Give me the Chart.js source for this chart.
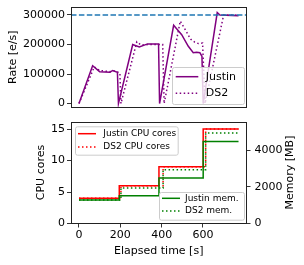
<!DOCTYPE html>
<html lang="en">
  <head>
    <meta charset="UTF-8" />
    <title>Justin vs DS2 - rate and resources</title>
    <script src="https://cdn.jsdelivr.net/npm/chart.js"></script>
    <style>
      body { margin: 0; background: #fff; }
      .panel { position: absolute; left: 0; width: 304px; }
      #top { top: 0; height: 115px; }
      #bottom { top: 115px; height: 150px; }
    </style>
  </head>
  <body>
    <div class="panel" id="top"><canvas id="rateChart"></canvas></div>
    <div class="panel" id="bottom"><canvas id="resChart"></canvas></div>

    <script>
      // processing rate (events/s) over elapsed time
      const justinTime = [0, 66, 100, 150, 163, 186, 191, 260, 292, 332, 385, 390, 458, 497, 529, 553, 569, 585, 595, 601, 669, 682, 772];
      const justinRate = [0, 128000, 108000, 106000, 112000, 106000, 0, 200000, 192000, 202000, 202000, 0, 265000, 233000, 194000, 172000, 174000, 172000, 160000, 0, 308000, 300000, 297000];
      const ds2Time = [0, 74, 100, 150, 168, 198, 203, 280, 300, 340, 405, 412, 490, 517, 540, 560, 578, 598, 610, 700, 772];
      const ds2Rate = [0, 124000, 112000, 108000, 111000, 104000, 0, 209000, 198000, 200000, 200000, 0, 279000, 247000, 218000, 208000, 203000, 205000, 0, 300000, 300000];
      const targetRate = 300000;

      // resources: step changes (value holds from each time until the next)
      const justinStepTime = [0, 195, 387, 601, 772];
      const ds2StepTime = [0, 203, 407, 613, 772];
      const justinCores = [4, 6, 9, 15, 15];
      const ds2Cores = [4, 6, 9, 15, 15];
      const justinMem = [1280, 1520, 2480, 4480, 4480];
      const ds2Mem = [1280, 1940, 2940, 4940, 4940];

      const xTicks = [0, 200, 400, 600];
      const rateTicks = [0, 100000, 200000, 300000];
      const coreTicks = [0, 5, 10, 15];
      const memTicks = [0, 2000, 4000];
      const xMin = -38.6, xMax = 810.6;

      const pts = (xs, ys) => xs.map((x, i) => ({ x: x, y: ys[i] }));
      const plain = (v) => String(v);

      Chart.defaults.font.family = "'DejaVu Sans', sans-serif";
      Chart.defaults.font.size = 11;
      Chart.defaults.color = "#000";

      const PURPLE = "#800080", RED = "#ff0000", GREEN = "#008000", BLUE = "#1f77b4";
      const DOT = [1.5, 2.5];

      // axis frame, legends and rotated side label drawn on top of the lines
      const framePlugin = {
        id: "framePlugin",
        afterDatasetsDraw(chart, args, opts) {
          const ctx = chart.ctx;
          const a = chart.chartArea;
          ctx.save();
          ctx.strokeStyle = "#222";
          ctx.lineWidth = 1;
          ctx.strokeRect(Math.round(a.left) + 0.5, Math.round(a.top) + 0.5,
            Math.round(a.right - a.left) - 1, Math.round(a.bottom - a.top) - 1);
          (opts.boxes || []).forEach(function (b) {
            ctx.fillStyle = "rgba(255,255,255,0.8)";
            ctx.strokeStyle = "#cccccc";
            ctx.lineWidth = 1;
            ctx.beginPath();
            ctx.roundRect(b.x + 0.5, b.y + 0.5, b.w, b.h, 2);
            ctx.fill();
            ctx.stroke();
            ctx.font = b.size + "px 'DejaVu Sans'";
            ctx.textBaseline = "middle";
            b.items.forEach(function (idx, i) {
              const ds = chart.data.datasets[idx];
              const y = b.rows[i];
              ctx.beginPath();
              ctx.strokeStyle = ds.borderColor;
              ctx.lineWidth = ds.borderWidth;
              ctx.setLineDash(ds.borderDash || []);
              ctx.moveTo(b.line[0], y);
              ctx.lineTo(b.line[1], y);
              ctx.stroke();
              ctx.setLineDash([]);
              ctx.fillStyle = "#000";
              ctx.fillText(ds.label, b.textX, y);
            });
          });
          if (opts.sideTitle) {
            const t = opts.sideTitle;
            ctx.translate(t.x, (a.top + a.bottom) / 2);
            ctx.rotate(-Math.PI / 2);
            ctx.font = "11px 'DejaVu Sans'";
            ctx.textAlign = "center";
            ctx.textBaseline = "middle";
            ctx.fillStyle = "#000";
            ctx.fillText(t.text, 0, 0);
          }
          ctx.restore();
        },
      };

      function fixWidth(w) {
        return function (s) { s.width = w; s.paddingTop = 0; s.paddingBottom = 0; };
      }
      function useTicks(list) {
        return function (s) { s.ticks = list.map((v) => ({ value: v })); };
      }
      const tickGrid = { drawOnChartArea: false, drawTicks: true, tickLength: 4, color: "#000", lineWidth: 0.8 };

      // top panel: rate
      new Chart(document.getElementById("rateChart"), {
        type: "line",
        data: {
          datasets: [
            { label: "target", data: pts([xMin, xMax], [targetRate, targetRate]), borderColor: BLUE, borderWidth: 1.5, borderDash: [5.5, 2.4], pointRadius: 0 },
            { label: "Justin", data: pts(justinTime, justinRate), borderColor: PURPLE, borderWidth: 1.5, pointRadius: 0 },
            { label: "DS2", data: pts(ds2Time, ds2Rate), borderColor: PURPLE, borderWidth: 1.5, borderDash: DOT, pointRadius: 0 },
          ],
        },
        options: {
          responsive: true,
          maintainAspectRatio: false,
          animation: false,
          devicePixelRatio: 1,
          layout: { padding: { left: 0, right: 57.5, top: 7, bottom: 7.5 } },
          scales: {
            x: { type: "linear", min: xMin, max: xMax, display: false },
            y: {
              min: -13400, max: 326900,
              afterBuildTicks: useTicks(rateTicks),
              afterFit: fixWidth(71),
              grid: tickGrid,
              border: { display: false },
              ticks: { padding: 2, callback: plain },
              title: { display: true, text: "Rate [e/s]", padding: { top: 6.5, bottom: 0 } },
            },
          },
          plugins: {
            legend: { display: false },
            tooltip: { enabled: false },
            framePlugin: {
              boxes: [{ x: 172, y: 67, w: 72, h: 37, size: 11, items: [1, 2], rows: [76.7, 93.3], line: [175.7, 198.3], textX: 205.7 }],
            },
          },
        },
        plugins: [framePlugin],
      });

      // bottom panel: CPU cores (left) and memory (right)
      new Chart(document.getElementById("resChart"), {
        type: "line",
        data: {
          datasets: [
            { label: "Justin mem.", data: pts(justinStepTime, justinMem), yAxisID: "y2", stepped: true, borderColor: GREEN, borderWidth: 1.5, pointRadius: 0 },
            { label: "DS2 mem.", data: pts(ds2StepTime, ds2Mem), yAxisID: "y2", stepped: true, borderColor: GREEN, borderWidth: 1.5, borderDash: DOT, pointRadius: 0 },
            { label: "Justin CPU cores", data: pts(justinStepTime, justinCores), yAxisID: "y", stepped: true, borderColor: RED, borderWidth: 1.5, pointRadius: 0 },
            { label: "DS2 CPU cores", data: pts(ds2StepTime, ds2Cores), yAxisID: "y", stepped: true, borderColor: RED, borderWidth: 1.5, borderDash: DOT, pointRadius: 0 },
          ],
        },
        options: {
          responsive: true,
          maintainAspectRatio: false,
          animation: false,
          devicePixelRatio: 1,
          layout: { padding: { left: 0, right: 0, top: 6.5, bottom: 0 } },
          scales: {
            x: {
              type: "linear", min: xMin, max: xMax,
              afterBuildTicks: useTicks(xTicks),
              afterFit: function (s) { s.height = 41.5; s.paddingLeft = 0; s.paddingRight = 0; },
              grid: tickGrid,
              border: { display: false },
              ticks: { padding: 1, callback: plain },
              title: { display: true, text: "Elapsed time [s]", padding: { top: 0, bottom: 7 } },
            },
            y: {
              position: "left", min: 0, max: 16.2,
              afterBuildTicks: useTicks(coreTicks),
              afterFit: fixWidth(71),
              grid: tickGrid,
              border: { display: false },
              ticks: { padding: 2, callback: plain },
              title: { display: true, text: "CPU cores", padding: { top: 34.5, bottom: 0 } },
            },
            y2: {
              position: "right", min: 0, max: 5570,
              afterBuildTicks: useTicks(memTicks),
              afterFit: fixWidth(57.5),
              grid: tickGrid,
              border: { display: false },
              ticks: { padding: 4, callback: plain },
            },
          },
          plugins: {
            legend: { display: false },
            tooltip: { enabled: false },
            framePlugin: {
              sideTitle: { text: "Memory [MB]", x: 290 },
              boxes: [
                { x: 75, y: 11.3, w: 102.7, h: 28.4, size: 9, items: [2, 3], rows: [18.7, 32], line: [78, 96], textX: 103.3 },
                { x: 159, y: 77, w: 85, h: 27.7, size: 9, items: [0, 1], rows: [83.3, 96], line: [162, 180], textX: 185 },
              ],
            },
          },
        },
        plugins: [framePlugin],
      });
    </script>
  </body>
</html>
